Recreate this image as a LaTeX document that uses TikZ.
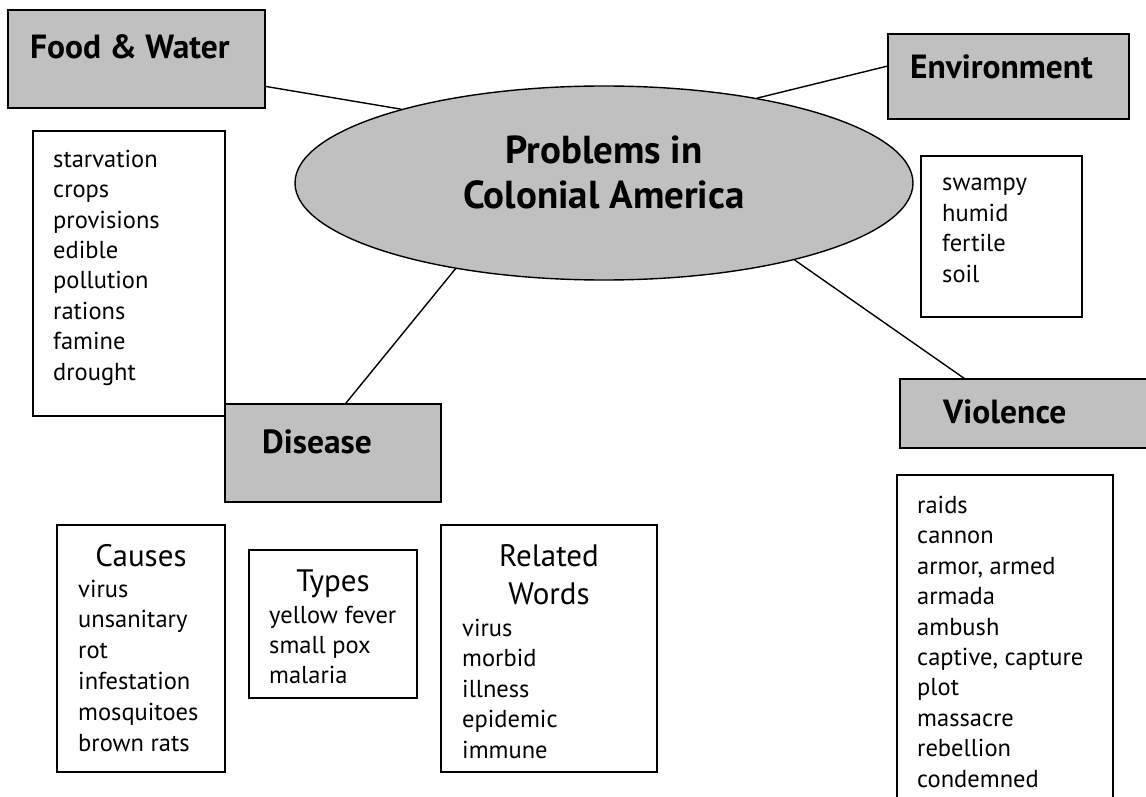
\documentclass[tikz,border=0pt]{standalone}
\usepackage{fontspec}
\setmainfont{PT Sans}
\usetikzlibrary{shapes.geometric,positioning}
\definecolor{boxgray}{RGB}{192,192,192}

\begin{document}
\begin{tikzpicture}[x=1pt,y=-1pt,
  topic/.style={draw, line width=1.8pt, fill=boxgray, anchor=north west, inner sep=0pt, outer sep=0pt},
  wordbox/.style={draw, line width=1.8pt, anchor=north west, inner sep=0pt, outer sep=0pt},
  topiclabel/.style={anchor=base west, inner sep=0pt, font=\fontsize{33.5}{38}\selectfont\bfseries},
  wordlist/.style={anchor=base west, inner sep=0pt, align=left, font=\fontsize{24.5}{30.4}\selectfont},
  listhead/.style={anchor=base, inner sep=0pt, align=center, font=\fontsize{31}{38}\selectfont},
  link/.style={line width=1.4pt}]
\useasboundingbox (0,0) rectangle (1146,797);
\clip (0,0) rectangle (1146,797);

% centre
\node[ellipse, draw, line width=1.4pt, fill=boxgray, minimum width=618pt, minimum height=194pt, inner sep=0pt] (problems) at (604,183) {};
\node[align=center, inner sep=0pt, font=\fontsize{39}{45}\selectfont\bfseries] (title) at (604,172) {Problems in\\Colonial America};

% topics
\node[topic, minimum width=257pt, minimum height=98pt] (food) at (8,10) {};
\node[topiclabel] (foodlabel) at (30,59) {Food \& Water};
\node[topic, minimum width=241pt, minimum height=85pt] (env) at (888,34) {};
\node[topiclabel] (envlabel) at (910,79) {Environment};
\node[topic, minimum width=216pt, minimum height=98pt] (disease) at (225,404) {};
\node[topiclabel] (diseaselabel) at (262,453) {Disease};
\node[topic, minimum width=260pt, minimum height=69pt] (violence) at (900,379) {};
\node[topiclabel] (violencelabel) at (943,423) {Violence};

% word boxes (lists are placed by their last line)
\node[wordbox, minimum width=192pt, minimum height=285pt] (foodbox) at (33,131) {};
\node[wordlist] (foodwords) at (53,380) {starvation\\crops\\provisions\\edible\\pollution\\rations\\famine\\drought};
\node[wordbox, minimum width=161pt, minimum height=161pt] (envbox) at (921,156) {};
\node[wordlist] (envwords) at (942,282) {swampy\\humid\\fertile\\soil};
\node[wordbox, minimum width=216pt, minimum height=345pt] (violencebox) at (897,475) {};
\node[wordlist] (violencewords) at (917,787) {raids\\cannon\\armor, armed\\armada\\ambush\\captive, capture\\plot\\massacre\\rebellion\\condemned};

\node[wordbox, minimum width=168pt, minimum height=247pt] (causes) at (57,525) {};
\node[listhead] (causeshead) at (141,566) {Causes};
\node[wordlist, font=\fontsize{24.5}{30.8}\selectfont] (causeswords) at (78,751) {virus\\unsanitary\\rot\\infestation\\mosquitoes\\brown rats};
\node[wordbox, minimum width=168pt, minimum height=148pt] (types) at (249,550) {};
\node[listhead] (typeshead) at (333,591) {Types};
\node[wordlist, font=\fontsize{24.5}{30}\selectfont] (typeswords) at (269,683) {yellow fever\\small pox\\malaria};
\node[wordbox, minimum width=216pt, minimum height=247pt] (related) at (441,525) {};
\node[listhead] (relatedhead) at (549,604) {Related\\Words};
\node[wordlist] (relatedwords) at (462,758) {virus\\morbid\\illness\\epidemic\\immune};

% links
\draw[link] (food.-12) -- (problems.160);
\draw[link] (env.175) -- (problems.29);
\draw[link] (disease.76) -- (problems.-150);
\draw[link] (violence.152) -- (problems.-22);
\end{tikzpicture}
\end{document}
